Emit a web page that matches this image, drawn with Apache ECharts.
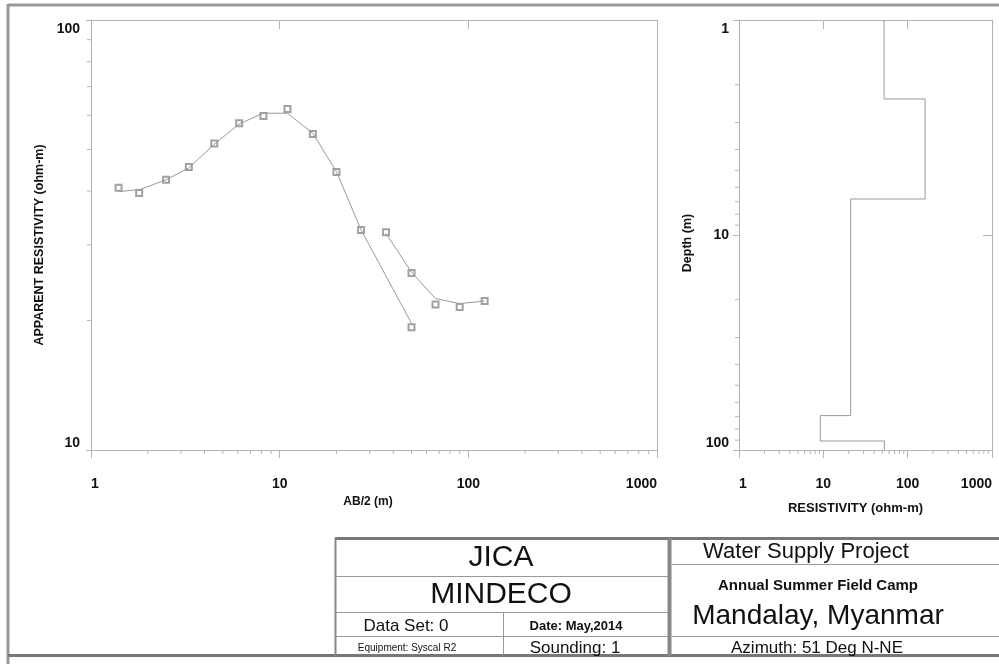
<!DOCTYPE html>
<html><head><meta charset="utf-8">
<script src="https://cdn.jsdelivr.net/npm/echarts@6/dist/echarts.min.js"></script>
<style>html,body{margin:0;padding:0;background:#fff}#c{width:999px;height:664px}</style>
</head><body><div id="c"></div>
<script>
// ---- data ----
const spacing1 = [1.4, 1.8, 2.5, 3.3, 4.5, 6.1, 8.2, 11, 15, 20, 27, 50];
const measured1 = [40.7, 39.6, 42.5, 45.5, 51.6, 57.5, 59.8, 62.1, 54.3, 44.3, 32.5, 19.3];
const fitted1 = [39.9, 40.3, 42.5, 45.3, 51.4, 57.3, 60.7, 60.7, 54.5, 44.4, 32.5, 19.7];
const spacing2 = [36.6, 50, 67, 90, 122];
const measured2 = [32.1, 25.8, 21.8, 21.5, 22.2];
const fitted2 = [31.9, 25.9, 22.5, 21.9, 22.2];
const layerResistivity = [52.5, 161, 21.1, 9.2, 53];
const layerTopDepth = [1, 2.33, 6.8, 69.2, 90.8];
const modelBottomDepth = 100;
const minorDecadeTicks = [2, 3, 4, 5, 6, 7, 8, 9];

const FONT = "'Liberation Sans', Arial, sans-serif";
const AX = '#b4b4b4';
const LINE = '#9a9a9a';

const pair = (xs, ys) => xs.map((x, i) => [x, ys[i]]);
const stepData = [];
layerResistivity.forEach((r, i) => {
  const top = layerTopDepth[i];
  const bot = i + 1 < layerTopDepth.length ? layerTopDepth[i + 1] : modelBottomDepth;
  stepData.push([r, top], [r, bot]);
});
const decadeMinors = (decades) => decades.flatMap(d => minorDecadeTicks.map(m => m * d));

function tickSeries(xi, yi, values, fixed, dir, len) {
  return {
    type: 'custom', xAxisIndex: xi, yAxisIndex: yi, silent: true, clip: false,
    data: values.map(v => dir === 'down' ? [v, fixed] : [fixed, v]),
    renderItem: (params, api) => {
      const p = api.coord([api.value(0), api.value(1)]);
      const shape = dir === 'down'
        ? { x1: p[0], y1: p[1], x2: p[0], y2: p[1] + len }
        : { x1: p[0], y1: p[1], x2: p[0] - len, y2: p[1] };
      return { type: 'line', shape, style: { stroke: AX, lineWidth: 1 } };
    }
  };
}

function labelFmt(topVal, botVal) {
  return (v) => {
    if (Math.abs(v - topVal) < 1e-9) return '{t|' + v + '}';
    if (Math.abs(v - botVal) < 1e-9) return '{b|' + v + '}';
    return '{m|' + v + '}';
  };
}
const lblStyle = { fontFamily: FONT, fontWeight: 'bold', fontSize: 14, color: '#111' };
const yRich = {
  t: Object.assign({ padding: [18, 0, 0, 0] }, lblStyle),
  b: Object.assign({ padding: [0, 0, 13, 0] }, lblStyle),
  m: Object.assign({}, lblStyle)
};

const baseX = (min, max) => ({
  type: 'log', logBase: 10, min, max, splitLine: { show: false },
  axisLine: { lineStyle: { color: AX } },
  axisTick: { show: true, length: 8, lineStyle: { color: AX } },
  axisLabel: Object.assign({ margin: 27, alignMinLabel: 'left', alignMaxLabel: 'right', showMinLabel: true, showMaxLabel: true,
    formatter: (v) => String(Math.round(v)) }, lblStyle)
});
const secX = (min, max, grid) => ({
  type: 'log', logBase: 10, min, max, gridIndex: grid, position: 'top', splitLine: { show: false },
  axisLine: { lineStyle: { color: AX } },
  axisTick: { show: true, inside: true, length: 9, lineStyle: { color: AX } },
  axisLabel: { show: false }
});

const option = {
  animation: false,
  backgroundColor: '#fff',
  grid: [
    { left: 91, top: 20, right: 342, bottom: 214 },
    { left: 739, top: 20, right: 7, bottom: 214 }
  ],
  xAxis: [
    Object.assign(baseX(1, 1000), {
      gridIndex: 0, name: 'AB/2 (m)', nameLocation: 'middle', nameGap: 43,
      nameTextStyle: { fontFamily: FONT, fontWeight: 'bold', fontSize: 12, color: '#111', padding: [0, 12, 0, 0] }
    }),
    secX(1, 1000, 0),
    Object.assign(baseX(1, 1000), {
      gridIndex: 1, name: 'RESISTIVITY (ohm-m)', nameLocation: 'middle', nameGap: 52,
      nameTextStyle: { fontFamily: FONT, fontWeight: 'bold', fontSize: 13, color: '#111', padding: [0, 20, 0, 0] }
    }),
    secX(1, 1000, 1)
  ],
  yAxis: [
    {
      type: 'log', logBase: 10, min: 10, max: 100, gridIndex: 0, splitLine: { show: false },
      axisLine: { lineStyle: { color: AX } }, axisTick: { show: true, length: 5, lineStyle: { color: AX } },
      axisLabel: { margin: 11, formatter: labelFmt(100, 10), rich: yRich },
      name: 'APPARENT RESISTIVITY (ohm-m)', nameLocation: 'middle', nameGap: 38,
      nameTextStyle: { fontFamily: FONT, fontWeight: 'bold', fontSize: 12.5, color: '#111', padding: [0, 20, 0, 0] }
    },
    {
      type: 'log', logBase: 10, min: 10, max: 100, gridIndex: 0, position: 'right', splitLine: { show: false },
      axisLine: { lineStyle: { color: AX } }, axisTick: { show: true, inside: true, length: 9, lineStyle: { color: AX } },
      axisLabel: { show: false }
    },
    {
      type: 'log', logBase: 10, min: 1, max: 100, inverse: true, gridIndex: 1, splitLine: { show: false },
      axisLine: { lineStyle: { color: AX } }, axisTick: { show: true, length: 6, lineStyle: { color: AX } },
      axisLabel: { margin: 10, formatter: labelFmt(1, 100), rich: yRich },
      name: 'Depth (m)', nameLocation: 'middle', nameGap: 45,
      nameTextStyle: { fontFamily: FONT, fontWeight: 'bold', fontSize: 12.5, color: '#111', padding: [0, 16, 0, 0] }
    },
    {
      type: 'log', logBase: 10, min: 1, max: 100, inverse: true, gridIndex: 1, position: 'right', splitLine: { show: false },
      axisLine: { lineStyle: { color: AX } }, axisTick: { show: true, inside: true, length: 9, lineStyle: { color: AX } },
      axisLabel: { show: false }
    }
  ],
  series: [
    { type: 'line', xAxisIndex: 0, yAxisIndex: 0, data: pair(spacing1, fitted1), showSymbol: false, symbol: 'none',
      lineStyle: { color: LINE, width: 1 } },
    { type: 'line', xAxisIndex: 0, yAxisIndex: 0, data: pair(spacing2, fitted2), showSymbol: false, symbol: 'none',
      lineStyle: { color: LINE, width: 1 } },
    { type: 'scatter', xAxisIndex: 0, yAxisIndex: 0, data: pair(spacing1, measured1), symbol: 'emptyRect', symbolSize: 6,
      itemStyle: { color: '#8a8a8a', borderColor: '#8a8a8a', borderWidth: 1 } },
    { type: 'scatter', xAxisIndex: 0, yAxisIndex: 0, data: pair(spacing2, measured2), symbol: 'emptyRect', symbolSize: 6,
      itemStyle: { color: '#8a8a8a', borderColor: '#8a8a8a', borderWidth: 1 } },
    { type: 'line', xAxisIndex: 2, yAxisIndex: 2, data: stepData, showSymbol: false, symbol: 'none',
      lineStyle: { color: LINE, width: 1 } },
    tickSeries(0, 0, decadeMinors([1, 10, 100]), 10, 'down', 4),
    tickSeries(0, 0, decadeMinors([10]), 1, 'left', 4),
    tickSeries(2, 2, decadeMinors([1, 10, 100]), 100, 'down', 4),
    tickSeries(2, 2, decadeMinors([1, 10]), 1, 'left', 4)
  ],
  graphic: [
    { type: 'line', shape: { x1: 8, y1: 5, x2: 999, y2: 5 }, style: { stroke: '#999', lineWidth: 3 } },
    { type: 'line', shape: { x1: 8, y1: 4, x2: 8, y2: 664 }, style: { stroke: '#999', lineWidth: 3 } },
    { type: 'line', shape: { x1: 8, y1: 655.5, x2: 999, y2: 655.5 }, style: { stroke: '#777', lineWidth: 3 } },
    { type: 'line', shape: { x1: 335, y1: 538.5, x2: 999, y2: 538.5 }, style: { stroke: '#777', lineWidth: 3 } },
    { type: 'line', shape: { x1: 335.5, y1: 538, x2: 335.5, y2: 656 }, style: { stroke: '#888', lineWidth: 2 } },
    { type: 'line', shape: { x1: 669.5, y1: 538, x2: 669.5, y2: 656 }, style: { stroke: '#888', lineWidth: 4 } },
    { type: 'line', shape: { x1: 335, y1: 576.5, x2: 668, y2: 576.5 }, style: { stroke: '#999', lineWidth: 1 } },
    { type: 'line', shape: { x1: 335, y1: 612.5, x2: 668, y2: 612.5 }, style: { stroke: '#999', lineWidth: 1 } },
    { type: 'line', shape: { x1: 335, y1: 636.5, x2: 668, y2: 636.5 }, style: { stroke: '#999', lineWidth: 1 } },
    { type: 'line', shape: { x1: 503.5, y1: 612, x2: 503.5, y2: 655 }, style: { stroke: '#999', lineWidth: 1 } },
    { type: 'line', shape: { x1: 672, y1: 564.5, x2: 999, y2: 564.5 }, style: { stroke: '#999', lineWidth: 1 } },
    { type: 'line', shape: { x1: 672, y1: 636.5, x2: 999, y2: 636.5 }, style: { stroke: '#999', lineWidth: 1 } },
    { type: 'text', x: 501, y: 558, style: { text: 'JICA', font: "30px " + FONT, fill: '#111', align: 'center', verticalAlign: 'middle' } },
    { type: 'text', x: 501, y: 595, style: { text: 'MINDECO', font: "30px " + FONT, fill: '#111', align: 'center', verticalAlign: 'middle' } },
    { type: 'text', x: 406, y: 626, style: { text: 'Data Set: 0', font: "17px " + FONT, fill: '#111', align: 'center', verticalAlign: 'middle' } },
    { type: 'text', x: 576, y: 626, style: { text: 'Date: May,2014', font: "bold 13px " + FONT, fill: '#111', align: 'center', verticalAlign: 'middle' } },
    { type: 'text', x: 407, y: 648, style: { text: 'Equipment: Syscal R2', font: "10px " + FONT, fill: '#111', align: 'center', verticalAlign: 'middle' } },
    { type: 'text', x: 575, y: 648, style: { text: 'Sounding: 1', font: "17px " + FONT, fill: '#111', align: 'center', verticalAlign: 'middle' } },
    { type: 'text', x: 806, y: 552, style: { text: 'Water Supply Project', font: "22px " + FONT, fill: '#111', align: 'center', verticalAlign: 'middle' } },
    { type: 'text', x: 818, y: 586, style: { text: 'Annual Summer Field Camp', font: "bold 15px " + FONT, fill: '#111', align: 'center', verticalAlign: 'middle' } },
    { type: 'text', x: 818, y: 616, style: { text: 'Mandalay, Myanmar', font: "28px " + FONT, fill: '#111', align: 'center', verticalAlign: 'middle' } },
    { type: 'text', x: 817, y: 648, style: { text: 'Azimuth: 51 Deg N-NE', font: "17px " + FONT, fill: '#111', align: 'center', verticalAlign: 'middle' } }
  ]
};
const chart = echarts.init(document.getElementById('c'), null, { renderer: 'canvas' });
chart.setOption(option);
</script></body></html>
